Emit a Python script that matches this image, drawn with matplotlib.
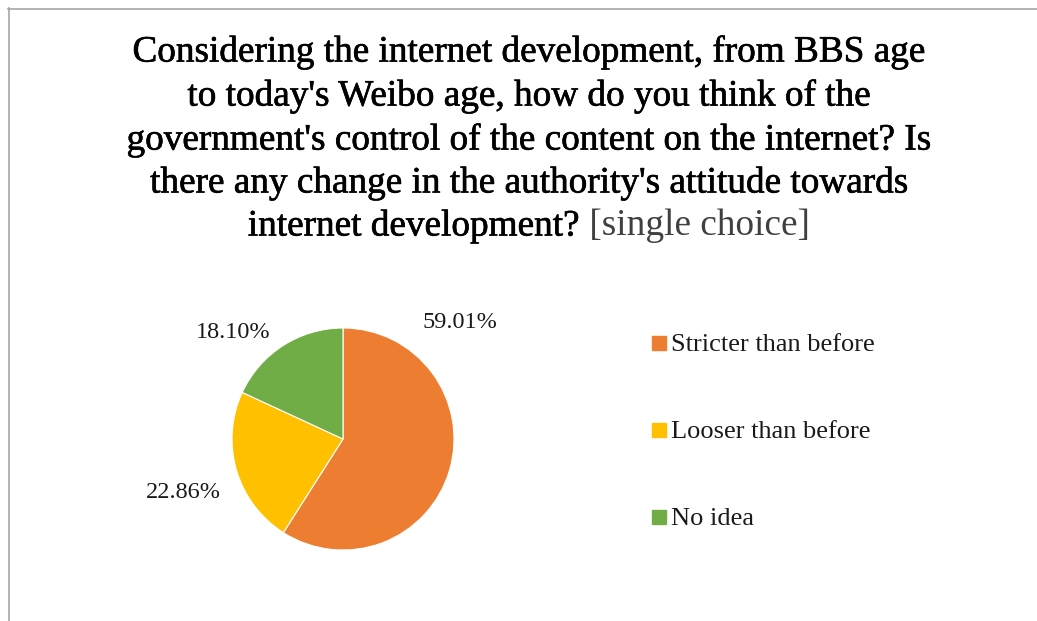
import matplotlib
matplotlib.use('Agg')
import matplotlib.pyplot as plt
import matplotlib.patheffects as pe
from matplotlib.lines import Line2D

plt.rcParams['font.family'] = ['Liberation Serif', 'DejaVu Serif']

labels = ['Stricter than before', 'Looser than before', 'No idea']
values = [59.01, 22.86, 18.10]
colors = ['#ED7D31', '#FFC000', '#70AD47']

title_lines = [
    "Considering the internet development, from BBS age",
    "to today's Weibo age, how do you think of the",
    "government's control of the content on the internet? Is",
    "there any change in the authority's attitude towards",
]
title_last = "internet development?"
title_tag = " [single choice]"

W, H = 1037, 621
fig = plt.figure(figsize=(W / 100, H / 100), dpi=100)
fig.patch.set_facecolor('white')

def fx(px):
    return px / W

def fy(py):
    return 1 - py / H

# chart frame (only the top and left edges show)
fig.add_artist(Line2D([fx(8), 1], [fy(8.5), fy(8.5)], color='#A6A6A6', lw=1.2))
fig.add_artist(Line2D([fx(8.5), fx(8.5)], [fy(8), 0], color='#A6A6A6', lw=1.2))

# title, regular face thickened a little
tsize = 26.8
heavy = [pe.withStroke(linewidth=0.45, foreground='black')]
ys = [52, 96, 140, 183]
for line, y in zip(title_lines, ys):
    fig.text(0.511, fy(y), line, ha='center', va='center', fontsize=tsize,
             color='black', path_effects=heavy)

renderer = fig.canvas.get_renderer()
t1 = fig.text(0, fy(226), title_last, ha='left', va='center', fontsize=tsize,
              color='black', path_effects=heavy)
t2 = fig.text(0, fy(226), title_tag, ha='left', va='center', fontsize=tsize,
              color='#404040')
w1 = t1.get_window_extent(renderer).width
w2 = t2.get_window_extent(renderer).width
x0 = 529 - (w1 + w2) / 2
t1.set_x(fx(x0))
t2.set_x(fx(x0 + w1))

# pie
cx, cy, r = 343, 439, 111
ax = fig.add_axes([fx(cx - r), 1 - (cy + r) / H, 2 * r / W, 2 * r / H])
ax.pie(values, colors=colors, startangle=90, counterclock=False, radius=1,
       wedgeprops=dict(edgecolor='white', linewidth=0.8))
ax.set_xlim(-1, 1)
ax.set_ylim(-1, 1)
ax.axis('off')

label_pos = [(1.05, 1.05), (-1.44, -0.48), (-0.99, 0.96)]
for v, (lx, ly) in zip(values, label_pos):
    ax.text(lx, ly, '%.2f%%' % v, ha='center', va='center', fontsize=17.5,
            color='#1a1a1a', clip_on=False)

# legend
ly0 = [343, 430, 517]
for lab, col, y in zip(labels, colors, ly0):
    fig.patches.append(plt.Rectangle((fx(652), fy(y + 7)), fx(14), 14 / H,
                                     transform=fig.transFigure, color=col,
                                     figure=fig))
    fig.text(fx(671), fy(y + 2), lab, ha='left', va='center', fontsize=19,
             color='#1a1a1a')

fig.savefig('out.png', dpi=100, facecolor='white')
